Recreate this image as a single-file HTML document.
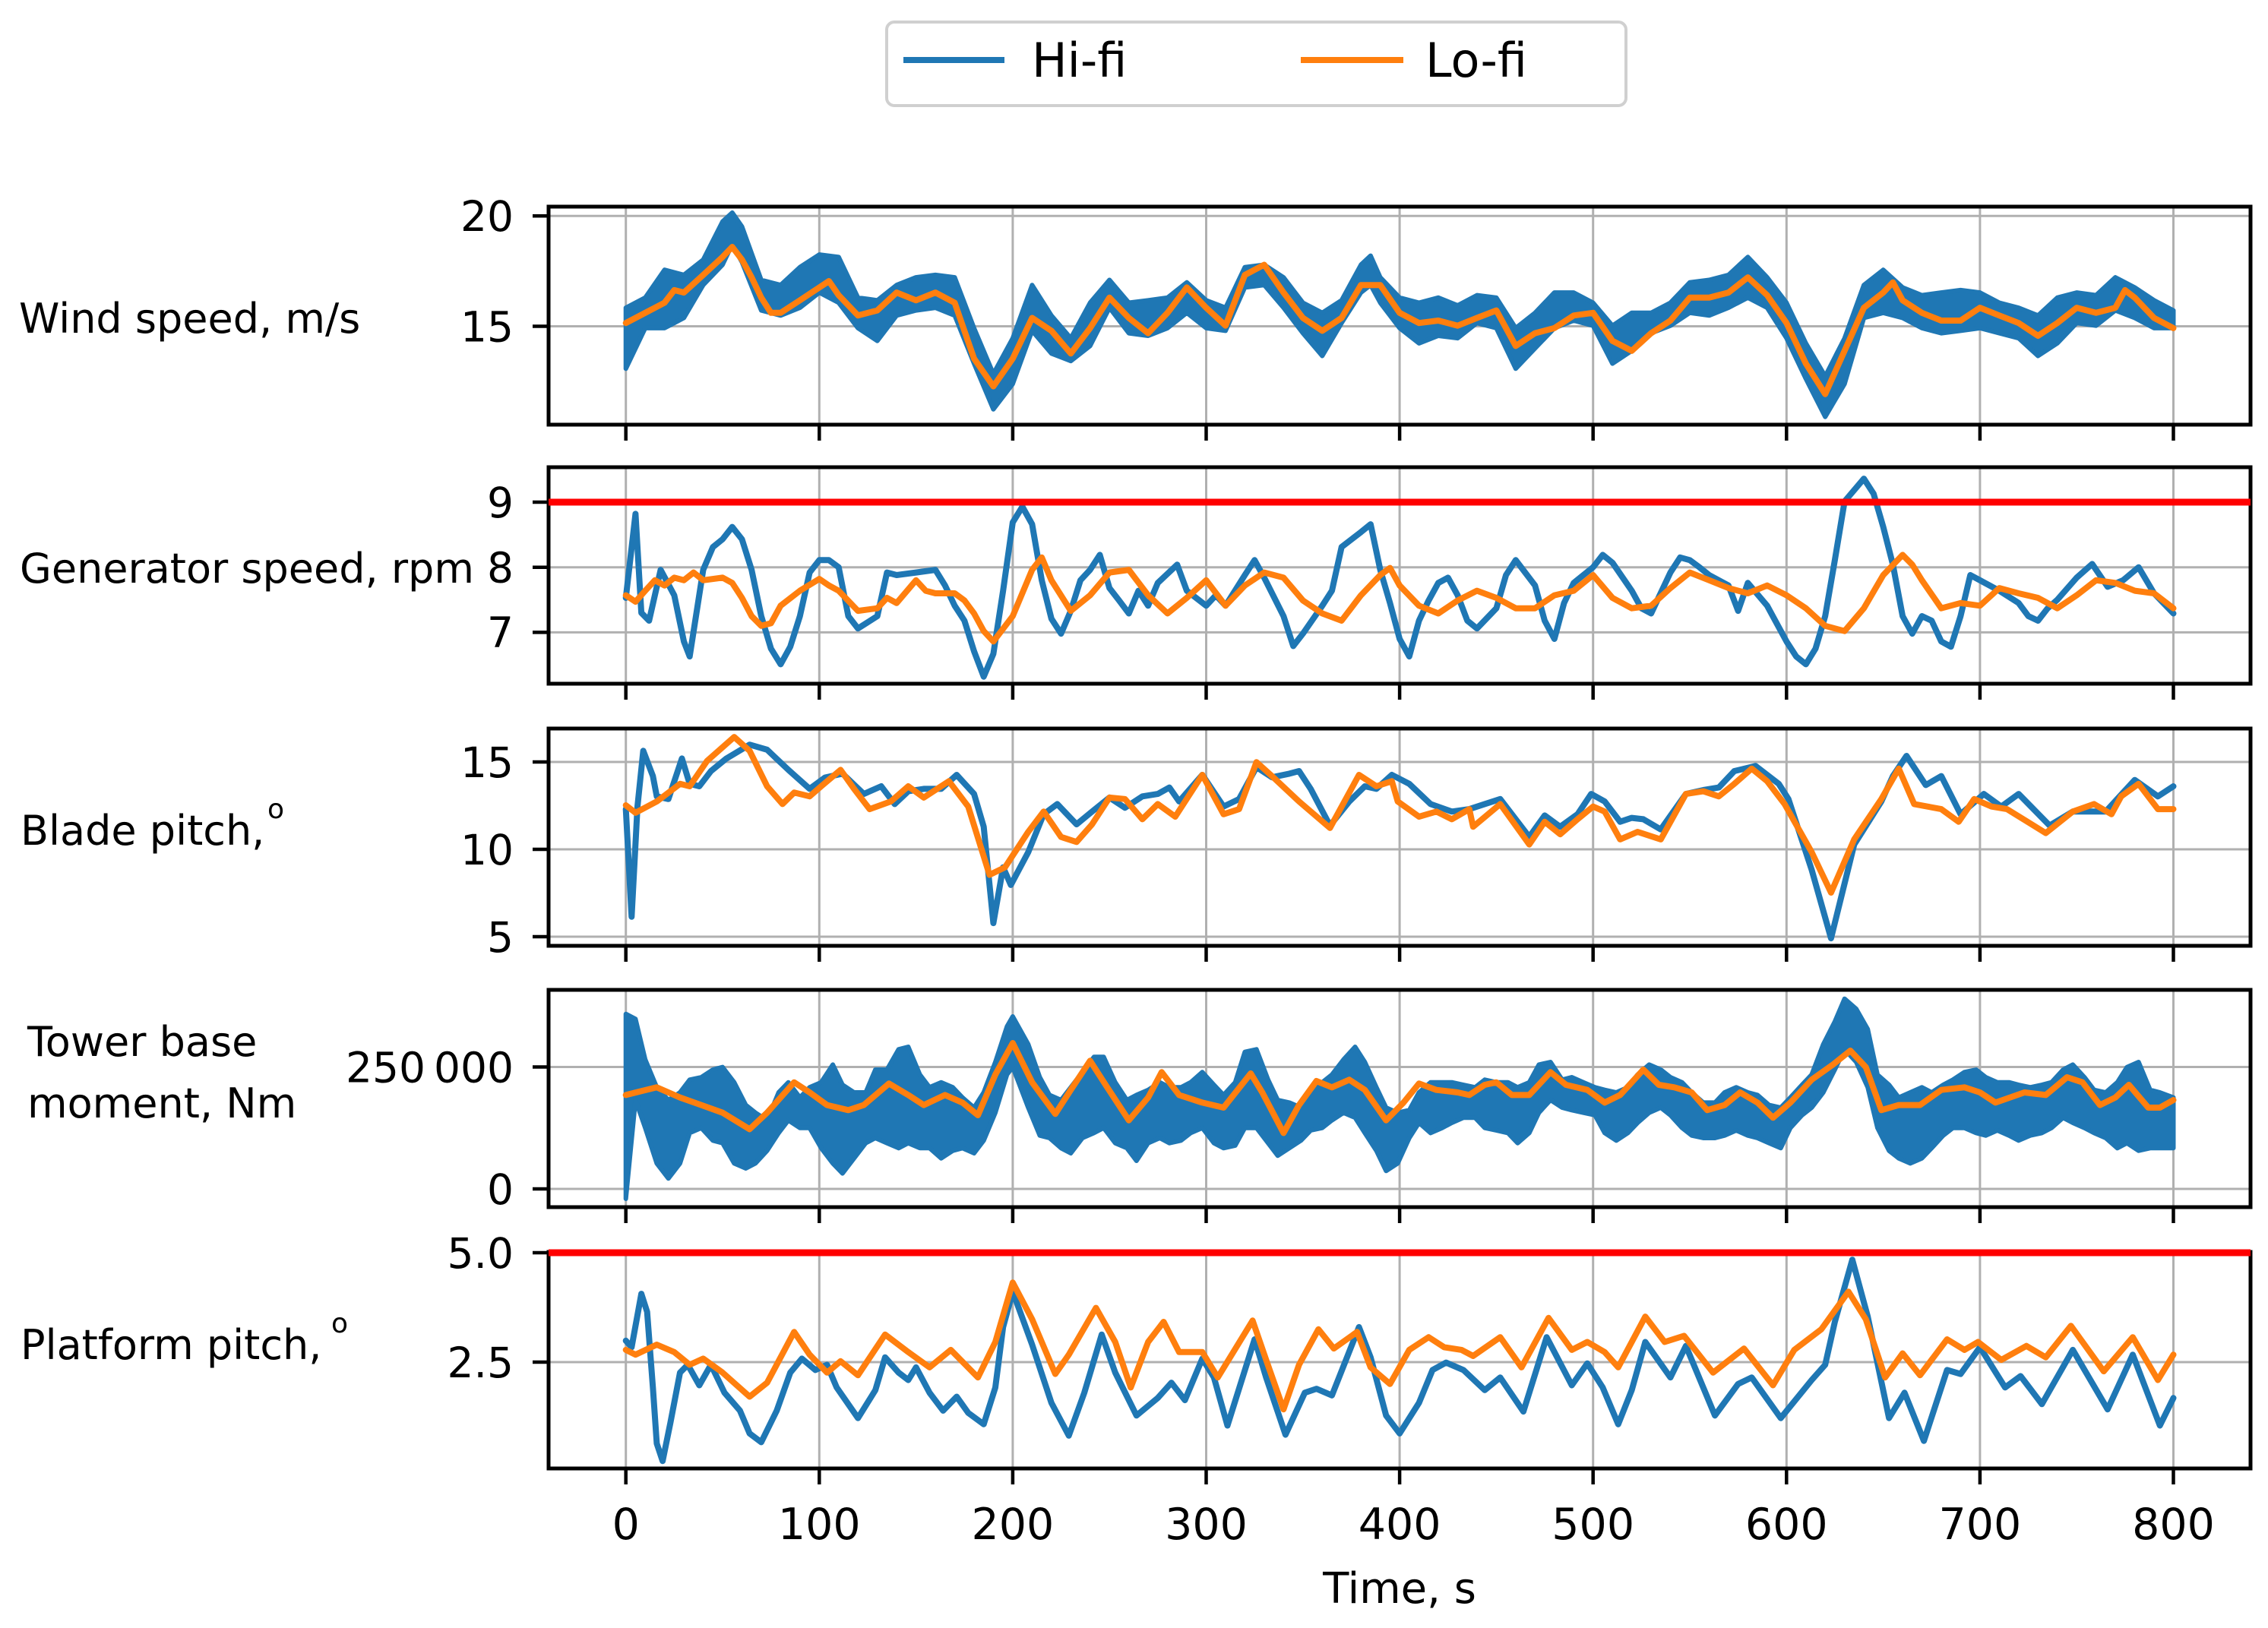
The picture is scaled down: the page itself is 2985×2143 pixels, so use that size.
<!DOCTYPE html>
<html><head><meta charset="utf-8"><title>Hi-fi vs Lo-fi time series</title>
<style>
html,body{margin:0;padding:0;background:#fff;}
svg{display:block;font-family:"DejaVu Sans","Liberation Sans",sans-serif;}
</style></head>
<body>
<svg id="chart" width="2985" height="2143" viewBox="0 0 2985 2143" xmlns="http://www.w3.org/2000/svg">
<rect x="0" y="0" width="2985" height="2143" fill="#fff"/>
<g>
  <rect x="1167" y="29" width="973" height="110" rx="10" fill="#fff" stroke="#d0d0d0" stroke-width="4"/>
  <line x1="1189" y1="79" x2="1322" y2="79" stroke="#1f77b4" stroke-width="8"/>
  <text x="1358" y="101" font-size="62">Hi-fi</text>
  <line x1="1712" y1="79" x2="1847" y2="79" stroke="#ff7f0e" stroke-width="8"/>
  <text x="1876" y="101" font-size="62">Lo-fi</text>
</g>
<g font-size="54">
  <text x="25" y="438">Wind speed, m/s</text>
  <text x="26" y="767">Generator speed, rpm</text>
  <text x="27" y="1112">Blade pitch,</text>
  <text x="352" y="1077" font-size="36">o</text>
  <text x="36" y="1390">Tower base</text>
  <text x="36" y="1471">moment, Nm</text>
  <text x="27" y="1789">Platform pitch,</text>
  <text x="436" y="1754" font-size="36">o</text>
</g>
<text x="1842" y="2110" font-size="56" text-anchor="middle">Time, s</text>
</svg>
<script>
// ---------- data ----------
const xTicks = [0,100,200,300,400,500,600,700,800];

// Wind speed (m/s)
const windT = [0,10,20,25,30,40,50,55,60,65,70,75,80,90,100,105,110,120,130,140,150,160,170,180,190,200,210,220,230,240,250,260,270,280,290,300,310,320,330,340,350,360,370,380,390,400,410,420,430,440,450,460,470,480,490,500,510,520,530,540,550,560,570,580,590,600,610,620,630,640,650,655,660,670,680,690,700,710,720,730,740,750,760,770,775,780,790,800];
const windLo = [15.15,15.61,16.07,16.64,16.53,17.33,18.14,18.60,18.02,17.22,16.30,15.61,15.61,16.18,16.76,17.05,16.41,15.49,15.72,16.53,16.18,16.53,16.07,13.54,12.28,13.54,15.38,14.80,13.77,14.92,16.30,15.38,14.69,15.61,16.76,15.84,15.03,17.33,17.79,16.53,15.38,14.80,15.38,16.87,16.87,15.61,15.15,15.26,15.03,15.38,15.72,14.11,14.69,14.92,15.49,15.61,14.34,13.89,14.69,15.26,16.30,16.30,16.53,17.22,16.41,15.15,13.31,11.93,13.89,15.84,16.53,16.99,16.18,15.61,15.26,15.26,15.84,15.49,15.15,14.57,15.15,15.84,15.61,15.84,16.64,16.30,15.38,14.92];
const windHiT = [0,10,20,30,40,50,55,60,70,80,90,100,110,120,130,140,150,160,170,180,190,200,210,220,230,240,250,260,270,280,290,300,310,320,330,340,350,360,370,380,385,390,400,410,420,430,440,450,460,470,480,490,500,510,520,530,540,550,560,570,580,590,600,610,620,630,640,650,660,670,680,690,700,710,720,730,740,750,760,770,780,790,800];
const windHiUpper = [15.84,16.30,17.56,17.33,18.02,19.75,20.15,19.52,17.10,16.87,17.68,18.25,18.14,16.30,16.18,16.87,17.22,17.33,17.22,14.92,12.85,14.46,16.87,15.49,14.46,16.07,17.10,16.07,16.18,16.30,16.99,16.18,15.84,17.68,17.79,17.22,16.07,15.61,16.18,17.79,18.20,17.22,16.30,16.07,16.30,15.95,16.41,16.30,14.92,15.61,16.53,16.53,16.07,15.03,15.61,15.61,16.07,16.99,17.10,17.33,18.14,17.22,16.07,14.23,12.74,14.46,16.87,17.56,16.76,16.41,16.53,16.64,16.53,16.07,15.84,15.49,16.30,16.53,16.41,17.22,16.76,16.18,15.72];
const windHiLower = [13.08,14.92,14.92,15.38,16.87,17.79,18.71,17.91,15.72,15.49,15.84,16.53,16.07,14.92,14.34,15.49,15.72,15.84,15.49,13.31,11.24,12.39,14.80,13.77,13.43,14.11,15.84,14.69,14.57,14.92,15.61,14.92,14.80,16.76,16.87,15.84,14.69,13.66,15.15,16.53,16.87,16.07,14.92,14.23,14.57,14.46,15.15,14.92,13.08,14.00,14.92,15.26,15.03,13.31,13.89,14.69,15.03,15.61,15.49,15.84,16.30,15.84,14.46,12.62,10.90,12.39,15.38,15.61,15.38,14.92,14.69,14.80,14.92,14.69,14.46,13.66,14.23,15.15,15.03,15.72,15.38,14.92,14.92];

// Generator speed (rpm)
const genHiT = [0,5,8,12,18,25,30,33,40,45,50,55,60,65,70,75,80,85,90,95,100,105,110,115,120,130,135,140,150,160,165,170,175,180,185,190,195,200,205,210,215,220,225,230,235,240,245,250,255,260,265,270,275,285,290,300,305,310,320,325,330,340,345,350,360,365,370,380,385,390,395,400,405,410,415,420,425,430,435,440,450,455,460,470,475,480,485,490,500,505,510,520,525,530,540,545,550,555,560,570,575,580,590,600,605,610,615,620,625,630,640,645,650,655,660,665,670,675,680,685,690,695,700,705,710,720,725,730,735,740,750,758,766,774,782,790,800];
const genHi = [7.53,8.82,7.30,7.18,7.96,7.57,6.86,6.63,7.96,8.31,8.43,8.62,8.43,7.96,7.25,6.75,6.51,6.78,7.25,7.92,8.11,8.11,8.00,7.25,7.06,7.25,7.92,7.88,7.92,7.96,7.72,7.41,7.18,6.71,6.32,6.67,7.64,8.69,8.93,8.66,7.80,7.21,6.98,7.33,7.80,7.96,8.19,7.68,7.49,7.29,7.64,7.41,7.76,8.04,7.64,7.41,7.57,7.41,7.88,8.11,7.84,7.25,6.79,6.98,7.41,7.64,8.31,8.54,8.66,7.96,7.45,6.90,6.63,7.18,7.49,7.76,7.84,7.57,7.18,7.06,7.37,7.88,8.11,7.72,7.18,6.90,7.45,7.76,8.00,8.19,8.07,7.64,7.37,7.29,7.92,8.15,8.11,8.00,7.88,7.72,7.33,7.76,7.41,6.86,6.63,6.51,6.75,7.25,8.11,9.01,9.36,9.13,8.62,8.04,7.25,6.98,7.25,7.18,6.86,6.78,7.25,7.88,7.80,7.72,7.64,7.45,7.25,7.18,7.37,7.50,7.84,8.05,7.70,7.80,8.00,7.60,7.29];
const genLoT = [0,5,10,15,20,25,30,35,40,50,55,60,65,70,75,80,90,100,105,110,120,130,135,140,150,155,160,170,175,180,185,190,200,210,215,220,230,240,250,260,270,280,290,300,310,320,330,340,350,360,370,380,390,395,400,410,420,430,440,450,460,470,480,490,500,510,520,530,540,550,560,570,580,590,600,610,620,630,640,650,660,665,670,680,690,700,710,720,730,740,750,760,770,780,790,800];
const genLo = [7.57,7.47,7.64,7.80,7.72,7.84,7.80,7.92,7.80,7.84,7.76,7.53,7.25,7.10,7.14,7.41,7.64,7.82,7.72,7.64,7.33,7.37,7.53,7.45,7.80,7.64,7.60,7.60,7.49,7.29,7.02,6.86,7.25,7.96,8.15,7.80,7.33,7.57,7.92,7.96,7.57,7.29,7.53,7.80,7.41,7.72,7.92,7.84,7.49,7.29,7.18,7.57,7.88,7.99,7.72,7.41,7.29,7.49,7.64,7.53,7.37,7.37,7.57,7.64,7.88,7.53,7.37,7.41,7.68,7.92,7.80,7.68,7.60,7.72,7.57,7.37,7.10,7.02,7.37,7.88,8.19,8.04,7.80,7.37,7.45,7.41,7.68,7.60,7.53,7.37,7.57,7.80,7.76,7.64,7.60,7.37];
const genLimit = [9];

// Blade pitch (deg)
const bladeHiT = [0,3,6,9,14,16,22,29,33,38,44,52,64,73,84,95,103,112,123,132,139,146,154,163,171,180,185,190,195,199,208,216,223,233,241,250,258,267,275,281,286,298,309,317,326,334,343,348,354,364,374,382,388,396,405,416,427,436,444,452,467,475,483,492,499,506,514,520,526,535,548,557,565,573,584,596,601,613,623,635,649,655,662,672,680,690,702,711,720,736,748,765,780,792,800];
const bladeHi = [12.30,6.14,12.45,15.64,14.19,13.03,12.88,15.20,13.75,13.61,14.48,15.20,15.99,15.70,14.55,13.46,14.11,14.33,13.17,13.61,12.59,13.32,13.46,13.46,14.26,13.17,11.29,5.78,8.97,7.96,9.84,12.01,12.59,11.43,12.16,12.96,12.38,13.03,13.17,13.54,12.74,14.26,12.45,12.88,14.70,14.12,14.33,14.48,13.46,11.36,12.74,13.61,13.46,14.26,13.75,12.59,12.16,12.30,12.59,12.88,10.71,11.94,11.29,12.01,13.17,12.74,11.58,11.80,11.72,11.14,13.17,13.39,13.54,14.48,14.77,13.75,12.88,8.83,4.91,10.28,12.74,14.19,15.35,13.68,14.19,12.01,13.17,12.45,13.17,11.36,12.16,12.16,13.97,13.03,13.61];
const bladeLoT = [0,5,16,28,33,42,56,64,73,81,87,95,101,111,118,126,137,146,154,167,177,188,196,208,216,225,233,241,250,258,267,275,284,298,309,317,326,334,348,364,379,388,396,399,410,419,427,436,438,452,467,475,483,492,500,506,514,523,535,548,557,565,573,582,590,599,613,623,635,649,658,666,680,689,697,706,714,734,748,759,768,773,782,792,800];
const bladeLo = [12.52,12.09,12.74,13.75,13.61,15.06,16.43,15.64,13.61,12.59,13.25,13.03,13.61,14.55,13.46,12.30,12.74,13.61,12.96,13.90,12.45,8.54,8.97,11.00,12.16,10.71,10.42,11.43,12.96,12.88,11.72,12.59,11.87,14.26,12.01,12.30,14.99,14.19,12.74,11.22,14.26,13.61,13.90,12.74,11.87,12.16,11.72,12.30,11.29,12.59,10.28,11.58,10.86,11.72,12.45,12.16,10.57,11.00,10.57,13.17,13.32,13.03,13.75,14.62,13.90,12.59,9.84,7.52,10.57,12.88,14.62,12.59,12.30,11.58,12.88,12.45,12.30,10.93,12.16,12.59,12.01,13.03,13.75,12.30,12.30];

// Tower base moment (kNm)
const towerLoT = [0,8,16,28,39,50,64,73,87,95,104,115,123,136,146,154,165,174,182,191,200,210,222,230,240,248,260,270,277,286,298,309,323,329,340,348,357,365,374,382,393,402,410,419,430,436,444,450,458,467,478,486,497,506,514,526,534,542,551,559,568,576,585,593,602,613,624,633,641,649,658,669,680,692,700,708,723,734,745,753,762,770,777,787,793,800];
const towerLo = [192.6,200.4,208.2,187.4,171.9,156.3,122.5,156.3,218.6,197.8,171.9,161.5,171.9,216.0,192.6,171.9,192.6,177.0,151.1,234.2,299.1,218.6,153.7,203.0,262.7,213.4,140.7,187.4,239.4,192.6,177.0,166.7,236.8,197.8,114.7,171.9,221.2,208.2,223.8,203.0,140.7,177.0,216.0,203.0,197.8,192.6,213.4,218.6,192.6,192.6,239.4,213.4,203.0,177.0,192.6,244.5,213.4,208.2,197.8,161.5,171.9,197.8,177.0,145.9,177.0,223.8,254.9,283.5,249.7,161.5,171.9,171.9,203.0,208.2,197.8,177.0,197.8,192.6,229.0,218.6,171.9,187.4,213.4,166.7,166.7,182.2];
const towerHiT = [0,5,10,16,22,28,33,39,45,50,56,62,67,73,79,84,90,95,101,107,112,118,124,129,135,141,146,152,157,163,169,174,180,185,191,197,200,208,214,219,225,230,236,242,247,253,259,264,270,276,281,287,292,298,304,309,315,320,326,332,337,343,349,354,360,365,371,377,382,388,393,399,405,410,416,422,427,433,439,444,450,456,461,467,472,478,484,489,495,501,506,512,518,523,529,535,540,546,551,557,563,568,574,580,585,591,597,602,608,613,619,625,630,636,642,647,653,658,664,670,675,681,686,692,698,703,709,715,720,726,732,737,743,748,754,759,765,771,776,782,788,793,800];
const towerHiUpper = [358.8,348.4,265.3,208.2,182.2,197.8,223.8,229.0,244.5,249.7,218.6,171.9,156.3,140.7,197.8,218.6,187.4,208.2,218.6,254.9,213.4,197.8,197.8,244.5,244.5,286.1,291.3,234.2,208.2,218.6,208.2,187.4,166.7,197.8,260.1,332.8,353.6,296.5,229.0,192.6,182.2,208.2,239.4,270.5,270.5,218.6,182.2,192.6,203.0,218.6,208.2,208.2,218.6,239.4,213.4,192.6,218.6,280.9,286.1,223.8,182.2,177.0,166.7,197.8,218.6,234.2,265.3,291.3,260.1,208.2,166.7,156.3,161.5,197.8,218.6,218.6,218.6,213.4,208.2,223.8,218.6,218.6,208.2,218.6,254.9,260.1,223.8,229.0,218.6,208.2,203.0,197.8,208.2,234.2,254.9,244.5,229.0,218.6,197.8,177.0,177.0,197.8,208.2,197.8,192.6,171.9,166.7,187.4,213.4,234.2,296.5,343.2,389.9,369.2,327.6,234.2,213.4,187.4,197.8,208.2,197.8,213.4,223.8,239.4,244.5,229.0,218.6,218.6,213.4,208.2,213.4,218.6,244.5,254.9,229.0,203.0,197.8,218.6,249.7,260.1,203.0,197.8,187.4];
const towerHiLower = [-20.2,182.2,125.1,52.4,21.3,52.4,114.7,125.1,99.2,94.0,52.4,42.1,52.4,78.4,114.7,140.7,125.1,125.1,83.6,52.4,31.7,62.8,94.0,104.4,94.0,83.6,94.0,83.6,83.6,62.8,78.4,83.6,73.2,99.2,156.3,234.2,249.7,166.7,109.5,104.4,83.6,73.2,104.4,114.7,125.1,94.0,83.6,57.6,94.0,104.4,94.0,99.2,114.7,125.1,94.0,83.6,88.8,125.1,125.1,94.0,68.0,83.6,99.2,119.9,125.1,140.7,156.3,145.9,114.7,78.4,36.9,52.4,104.4,135.5,114.7,125.1,135.5,145.9,145.9,125.1,119.9,114.7,94.0,114.7,156.3,182.2,166.7,161.5,156.3,151.1,114.7,99.2,114.7,135.5,156.3,166.7,151.1,125.1,109.5,104.4,104.4,109.5,119.9,109.5,104.4,94.0,83.6,125.1,151.1,166.7,197.8,244.5,286.1,260.1,208.2,125.1,78.4,62.8,52.4,62.8,83.6,109.5,125.1,125.1,114.7,109.5,119.9,109.5,99.2,109.5,114.7,125.1,145.9,135.5,125.1,114.7,104.4,83.6,94.0,78.4,83.6,83.6,83.6];

// Platform pitch (deg)
const platHiT = [0,3,8,11,14,16,19,23,28,32,38,44,51,59,64,70,78,85,91,98,104,109,120,129,134,141,146,150,157,164,171,177,185,191,195,200,210,220,229,237,246,253,264,275,282,289,298,304,311,325,331,341,351,357,365,379,385,393,400,410,417,424,433,444,452,464,476,489,497,505,513,520,527,540,548,563,575,582,597,613,620,625,634,642,653,661,671,683,690,700,713,721,732,748,766,779,793,800];
const platHi = [2.99,2.84,4.06,3.65,1.92,0.64,0.24,1.11,2.26,2.44,1.97,2.44,1.80,1.39,0.87,0.67,1.39,2.26,2.58,2.32,2.44,1.92,1.22,1.86,2.61,2.26,2.09,2.38,1.80,1.39,1.71,1.34,1.08,1.92,3.30,4.11,2.90,1.57,0.82,1.80,3.13,2.26,1.28,1.68,2.03,1.63,2.58,2.15,1.05,3.02,2.15,0.84,1.80,1.89,1.74,3.30,2.61,1.28,0.87,1.57,2.32,2.49,2.32,1.86,2.15,1.37,3.07,1.97,2.47,1.92,1.08,1.86,2.96,2.15,2.87,1.28,2.00,2.15,1.22,2.09,2.44,3.42,4.84,3.54,1.22,1.80,0.70,2.32,2.23,2.84,1.92,2.18,1.54,2.78,1.42,2.67,1.05,1.68];
const platLoT = [0,5,16,25,33,40,50,64,73,87,95,104,111,120,134,146,157,168,182,191,200,210,222,229,243,253,261,270,278,286,298,306,324,331,340,348,358,366,378,385,395,405,415,423,432,438,452,463,477,489,497,506,513,527,537,547,562,578,593,604,618,632,641,651,660,669,683,692,699,711,724,734,747,764,779,792,800];
const platLo = [2.78,2.67,2.90,2.73,2.44,2.58,2.26,1.71,2.03,3.19,2.67,2.26,2.52,2.20,3.13,2.73,2.38,2.78,2.15,2.96,4.32,3.48,2.23,2.67,3.74,2.96,1.92,2.96,3.42,2.73,2.73,2.15,3.45,2.55,1.42,2.44,3.25,2.81,3.19,2.38,2.00,2.78,3.07,2.84,2.78,2.64,3.07,2.38,3.51,2.78,2.96,2.73,2.38,3.54,2.96,3.10,2.26,2.81,1.97,2.78,3.25,4.11,3.48,2.15,2.70,2.20,3.02,2.78,2.96,2.55,2.87,2.61,3.33,2.29,3.07,2.09,2.67];
const platLimit = [5.0];

// ---------- drawing ----------
const svg = document.getElementById('chart');
const NS = 'http://www.w3.org/2000/svg';
const BLUE = '#1f77b4', ORANGE = '#ff7f0e';
const AX_L = 722, AX_R = 2962;
const xS = t => 823.7 + 2.546 * t;

function mk(tag, parent) { const e = document.createElementNS(NS, tag); parent.appendChild(e); return e; }
function pts(ts, vs, yS) { const n = Math.min(ts.length, vs.length); const a = []; for (let i = 0; i < n; i++) a.push(xS(ts[i]).toFixed(1) + ',' + yS(vs[i]).toFixed(1)); return a; }

const panels = [
  { key: 'wind', top: 272, bot: 559, yS: v => 284.3 + (20 - v) * 29.05, ticks: [15, 20], labels: ['15', '20'] },
  { key: 'generator', top: 615, bot: 900, yS: v => 661 + (9 - v) * 85.7, ticks: [7, 8, 9], labels: ['7', '8', '9'] },
  { key: 'blade', top: 959, bot: 1245, yS: v => 1003 + (15 - v) * 23.0, ticks: [5, 10, 15], labels: ['5', '10', '15'] },
  { key: 'tower', top: 1303, bot: 1589, yS: v => 1565 - v / 250 * 160.5, ticks: [0, 250], labels: ['0', '250\u2009000'] },
  { key: 'platform', top: 1648, bot: 1933, yS: v => 1649 + (5 - v) * 57.6, ticks: [2.5, 5.0], labels: ['2.5', '5.0'] }
];

panels.forEach((p, pi) => {
  const g = mk('g', svg);
  
  
  const clip = mk('clipPath', g);
  clip.setAttribute('id', 'clip' + pi);
  const cr = mk('rect', clip);
  cr.setAttribute('x', AX_L); cr.setAttribute('y', p.top); cr.setAttribute('width', AX_R - AX_L); cr.setAttribute('height', p.bot - p.top);

  xTicks.forEach(t => {
    const l = mk('line', g);
    
    
    l.setAttribute('x1', xS(t)); l.setAttribute('x2', xS(t)); l.setAttribute('y1', p.top); l.setAttribute('y2', p.bot);
    l.setAttribute('stroke', '#b0b0b0'); l.setAttribute('stroke-width', 3);
  });
  p.ticks.forEach((v, i) => {
    const y = p.yS(v);
    const l = mk('line', g);
    
    
    l.setAttribute('x1', AX_L); l.setAttribute('x2', AX_R); l.setAttribute('y1', y); l.setAttribute('y2', y);
    l.setAttribute('stroke', '#b0b0b0'); l.setAttribute('stroke-width', 3);
    const tk = mk('line', g);
    
    
    tk.setAttribute('x1', AX_L - 21); tk.setAttribute('x2', AX_L); tk.setAttribute('y1', y); tk.setAttribute('y2', y);
    tk.setAttribute('stroke', '#000'); tk.setAttribute('stroke-width', 4.5);
    const tx = mk('text', g);
    
    
    tx.setAttribute('x', 676); tx.setAttribute('y', y); tx.setAttribute('dy', '0.36em');
    tx.setAttribute('text-anchor', 'end'); tx.setAttribute('font-size', 55);
    tx.textContent = p.labels[i];
  });

  const sg = mk('g', g);
  sg.setAttribute('clip-path', 'url(#clip' + pi + ')');
  
  

  function line(ts, vs, color, name) {
    const pl = mk('polyline', sg);
    
    
    pl.setAttribute('points', pts(ts, vs, p.yS).join(' '));
    pl.setAttribute('fill', 'none'); pl.setAttribute('stroke', color);
    pl.setAttribute('stroke-width', 8); pl.setAttribute('stroke-linejoin', 'round'); pl.setAttribute('stroke-linecap', 'round');
  }
  function band(ts, up, lo, name) {
    const a = pts(ts, up, p.yS), b = pts(ts, lo, p.yS).reverse();
    const pg = mk('polygon', sg);
    
    
    pg.setAttribute('points', a.concat(b).join(' '));
    pg.setAttribute('fill', BLUE); pg.setAttribute('stroke', BLUE); pg.setAttribute('stroke-width', 6); pg.setAttribute('stroke-linejoin', 'round');
  }
  function limit(v, name) {
    const l = mk('line', g);
    
    
    l.setAttribute('x1', AX_L); l.setAttribute('x2', AX_R); l.setAttribute('y1', p.yS(v)); l.setAttribute('y2', p.yS(v));
    l.setAttribute('stroke', '#ff0000'); l.setAttribute('stroke-width', 9);
  }

  if (p.key === 'wind') { band(windHiT, windHiUpper, windHiLower, 'wind-hifi-line'); line(windT, windLo, ORANGE, 'wind-lofi-line'); }
  if (p.key === 'generator') { line(genHiT, genHi, BLUE, 'generator-hifi-line'); line(genLoT, genLo, ORANGE, 'generator-lofi-line'); }
  if (p.key === 'blade') { line(bladeHiT, bladeHi, BLUE, 'blade-hifi-line'); line(bladeLoT, bladeLo, ORANGE, 'blade-lofi-line'); }
  if (p.key === 'tower') { band(towerHiT, towerHiUpper, towerHiLower, 'tower-hifi-line'); line(towerLoT, towerLo, ORANGE, 'tower-lofi-line'); }
  if (p.key === 'platform') { line(platHiT, platHi, BLUE, 'platform-hifi-line'); line(platLoT, platLo, ORANGE, 'platform-lofi-line'); }

  const sp = mk('rect', g);
  
  
  sp.setAttribute('x', AX_L); sp.setAttribute('y', p.top); sp.setAttribute('width', AX_R - AX_L); sp.setAttribute('height', p.bot - p.top);
  sp.setAttribute('fill', 'none'); sp.setAttribute('stroke', '#000'); sp.setAttribute('stroke-width', 5);

  if (p.key === 'generator') limit(genLimit[0], 'generator-speed-limit-line');
  if (p.key === 'platform') limit(platLimit[0], 'platform-pitch-limit-line');

  xTicks.forEach(t => {
    const tk = mk('line', g);
    
    
    tk.setAttribute('x1', xS(t)); tk.setAttribute('x2', xS(t)); tk.setAttribute('y1', p.bot); tk.setAttribute('y2', p.bot + 21);
    tk.setAttribute('stroke', '#000'); tk.setAttribute('stroke-width', 4.5);
  });
});

xTicks.forEach(t => {
  const tx = mk('text', svg);
  
  
  tx.setAttribute('x', xS(t)); tx.setAttribute('y', 2026);
  tx.setAttribute('text-anchor', 'middle'); tx.setAttribute('font-size', 57);
  tx.textContent = String(t);
});
</script>
</body></html>
